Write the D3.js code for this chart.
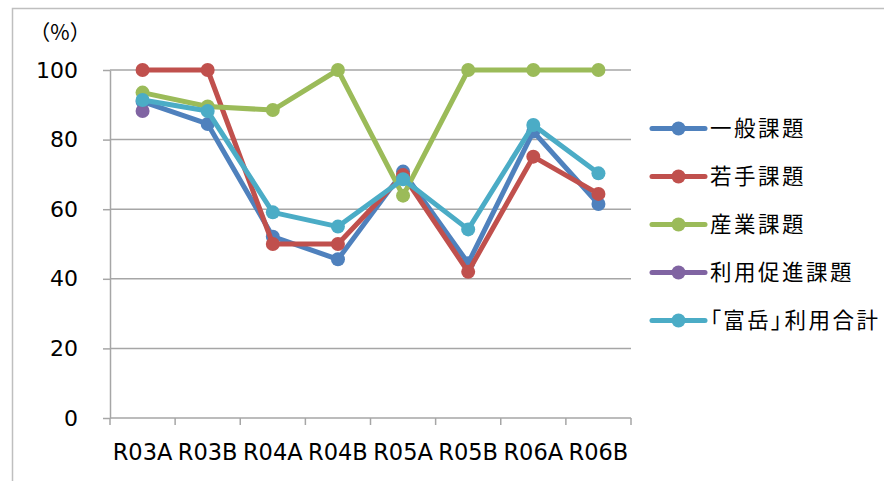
<!DOCTYPE html>
<html>
<head>
<meta charset="utf-8">
<script src="https://cdn.jsdelivr.net/npm/d3@7"></script>
<style>
  html, body { margin: 0; padding: 0; background: #fff; }
  svg { display: block; }
  .jp { font-feature-settings: "palt"; }
</style>
</head>
<body>
<svg id="chart" width="884" height="481"></svg>
<script>
// Periods on the x axis
const categories = ["R03A", "R03B", "R04A", "R04B", "R05A", "R05B", "R06A", "R06B"];

// Series (%), null where a series has no value
const seriesNames = ["一般課題", "若手課題", "産業課題", "利用促進課題", "「富岳」利用合計"];
const ippan   = [90.9, 84.5, 52.1, 45.6, 70.8, 44.5, 82.3, 61.5];
const wakate  = [100, 100, 50, 50, 69.8, 42.0, 75.1, 64.4];
const sangyo  = [93.5, 89.5, 88.5, 100, 63.9, 100, 100, 100];
const sokushin = [88.2, null, null, null, null, null, null, null];
const goukei  = [91.4, 88.2, 59.1, 55.0, 68.6, 54.2, 84.2, 70.3];
const seriesValues = [ippan, wakate, sangyo, sokushin, goukei];
const seriesColors = ["#4f81bd", "#c0504d", "#9bbb59", "#8064a2", "#4bacc6"];

const yTicks = [0, 20, 40, 60, 80, 100];

const svg = d3.select("#chart");
const W = 884, H = 481;
const plot = { left: 110, right: 631, top: 70, bottom: 418 };

// Outer chart frame (only top and left edges fall inside the view)
svg.append("rect")
  .attr("x", 12.5).attr("y", 8.5)
  .attr("width", W + 20).attr("height", H + 20)
  .attr("fill", "none").attr("stroke", "#bfbfbf").attr("stroke-width", 1.5);

const x = d3.scaleBand().domain(categories).range([plot.left, plot.right]).padding(0);
const y = d3.scaleLinear().domain([0, 100]).range([plot.bottom, plot.top]);

// Horizontal gridlines
svg.append("g")
  .selectAll("line")
  .data(yTicks.filter(t => t > 0))
  .join("line")
  .attr("x1", plot.left).attr("x2", plot.right)
  .attr("y1", d => y(d)).attr("y2", d => y(d))
  .attr("stroke", "#a6a6a6").attr("stroke-width", 1.5);

// Y axis
const yAxis = svg.append("g")
  .attr("transform", `translate(${plot.left},0)`)
  .call(d3.axisLeft(y).tickValues(yTicks).tickSize(7).tickPadding(25).tickSizeOuter(0));
yAxis.select(".domain").attr("stroke", "#a6a6a6").attr("stroke-width", 1.5);
yAxis.selectAll(".tick line").attr("stroke", "#a6a6a6").attr("stroke-width", 1.5);
yAxis.selectAll(".tick text")
  .attr("fill", "#000")
  .attr("font-family", "'DejaVu Sans', sans-serif")
  .attr("font-size", 22);

// X axis with ticks on band boundaries
const xAxisG = svg.append("g")
  .attr("transform", `translate(0,${plot.bottom})`);
xAxisG.append("line")
  .attr("x1", plot.left).attr("x2", plot.right)
  .attr("y1", 0).attr("y2", 0)
  .attr("stroke", "#a6a6a6").attr("stroke-width", 1.5);
const boundaries = categories.map(c => x(c)).concat([x(categories[categories.length - 1]) + x.bandwidth()]);
xAxisG.selectAll("line.tk")
  .data(boundaries)
  .join("line")
  .attr("class", "tk")
  .attr("x1", d => d).attr("x2", d => d)
  .attr("y1", 0).attr("y2", 7)
  .attr("stroke", "#a6a6a6").attr("stroke-width", 1.5);
xAxisG.selectAll("text")
  .data(categories)
  .join("text")
  .attr("x", d => x(d) + x.bandwidth() / 2)
  .attr("y", 42)
  .attr("text-anchor", "middle")
  .attr("font-family", "'DejaVu Sans', sans-serif")
  .attr("font-size", 22.5)
  .attr("fill", "#000")
  .text(d => d);

// Unit label
svg.append("text")
  .attr("x", 60).attr("y", 40)
  .attr("text-anchor", "middle")
  .attr("font-family", "'Noto Sans CJK JP', sans-serif")
  .attr("font-size", 21)
  .attr("fill", "#000")
  .text("（%）");

// Series lines and markers
const line = d3.line()
  .defined(d => d.v !== null)
  .x(d => x(d.c) + x.bandwidth() / 2)
  .y(d => y(d.v));

seriesValues.forEach((vals, i) => {
  const pts = categories.map((c, j) => ({ c, v: vals[j] }));
  const g = svg.append("g");
  g.append("path")
    .datum(pts)
    .attr("d", line)
    .attr("fill", "none")
    .attr("stroke", seriesColors[i])
    .attr("stroke-width", 5)
    .attr("stroke-linejoin", "round")
    .attr("stroke-linecap", "round");
  g.selectAll("circle")
    .data(pts.filter(p => p.v !== null))
    .join("circle")
    .attr("cx", d => x(d.c) + x.bandwidth() / 2)
    .attr("cy", d => y(d.v))
    .attr("r", 7)
    .attr("fill", seriesColors[i]);
});

// Legend
const legend = svg.append("g");
seriesNames.forEach((name, i) => {
  const ly = 128.5 + i * 48;
  const g = legend.append("g").attr("transform", `translate(0,${ly})`);
  g.append("line")
    .attr("x1", 652).attr("x2", 705)
    .attr("y1", 0).attr("y2", 0)
    .attr("stroke", seriesColors[i]).attr("stroke-width", 5)
    .attr("stroke-linecap", "round");
  g.append("circle").attr("cx", 678.5).attr("cy", 0).attr("r", 7).attr("fill", seriesColors[i]);
  g.append("text")
    .attr("class", "jp")
    .attr("x", 710).attr("y", 0)
    .attr("dy", "0.36em")
    .attr("font-family", "'Noto Sans CJK JP', sans-serif")
    .attr("font-size", 21.5)
    .attr("letter-spacing", 2.5)
    .attr("fill", "#000")
    .text(name);
});
</script>
</body>
</html>
